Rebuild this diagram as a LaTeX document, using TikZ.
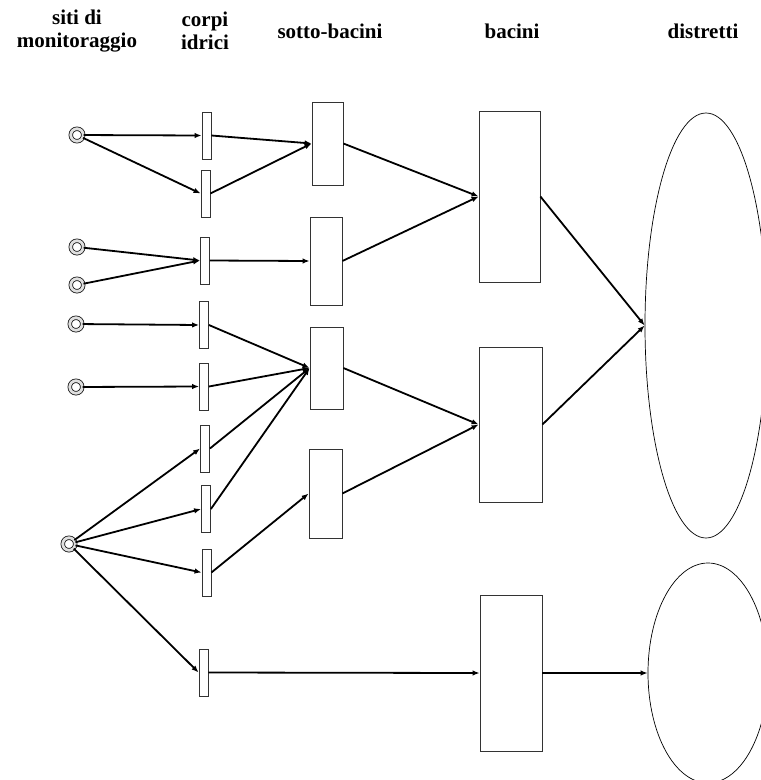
\documentclass[tikz,border=0pt]{standalone}
\usepackage{fontspec}
\setmainfont{Liberation Serif}
\usetikzlibrary{shapes.geometric,arrows.meta}
\tikzset{>={Latex[length=7pt,width=5.5pt]}}
\tikzset{
  site/.style={circle,draw=gray!20!black,fill=white,line width=0.8pt,double=gray!25,double distance=2.8pt,inner sep=0pt,minimum size=12.5pt},
  corpo/.style={rectangle,draw=gray!40!black,line width=0.8pt,inner sep=0pt,minimum width=9pt,minimum height=47pt},
  bacino/.style={rectangle,draw=gray!40!black,line width=0.8pt,inner sep=0pt},
  distretto/.style={ellipse,draw,line width=0.7pt,inner sep=0pt},
  flow/.style={->,line width=1.8pt},
  header/.style={font=\bfseries\fontsize{21}{23}\selectfont,align=center}
}

\begin{document}
\begin{tikzpicture}[x=1pt,y=-1pt]
  \useasboundingbox (0,0) rectangle (761,780);
  \clip (0,0) rectangle (761,780);
  % headers
  \node[header] (h1) at (77,31) {siti di\\monitoraggio};
  \node[header] (h2) at (205,31) {corpi\\idrici};
  \node[header] (h3) at (330,31) {sotto-bacini};
  \node[header] (h4) at (512,31) {bacini};
  \node[header] (h5) at (703,31) {distretti};
  % monitoring sites
  \node[site] (s1) at (77,135) {};
  \node[site] (s2) at (77,247) {};
  \node[site] (s3) at (77,285) {};
  \node[site] (s4) at (76,324) {};
  \node[site] (s5) at (76,387) {};
  \node[site] (s6) at (69,544) {};
  % water bodies
  \node[corpo] (c1) at (206.5,135.5) {};
  \node[corpo] (c2) at (205.5,193.5) {};
  \node[corpo] (c3) at (205,260.5) {};
  \node[corpo] (c4) at (204,325) {};
  \node[corpo] (c5) at (204,386.5) {};
  \node[corpo] (c6) at (205,448.5) {};
  \node[corpo] (c7) at (206,509) {};
  \node[corpo] (c8) at (206.5,572.5) {};
  \node[corpo] (c9) at (203.5,672.5) {};
  % sub-basins
  \node[bacino,minimum width=31pt,minimum height=83pt] (sb1) at (327.5,143.5) {};
  \node[bacino,minimum width=32pt,minimum height=88pt] (sb2) at (326,261) {};
  \node[bacino,minimum width=33pt,minimum height=82pt] (sb3) at (326.5,368) {};
  \node[bacino,minimum width=33pt,minimum height=89pt] (sb4) at (325.5,493.5) {};
  % basins
  \node[bacino,minimum width=61pt,minimum height=171pt] (b1) at (509.5,196.5) {};
  \node[bacino,minimum width=63pt,minimum height=155pt] (b2) at (510.5,424.5) {};
  \node[bacino,minimum width=62pt,minimum height=156pt] (b3) at (511,673) {};
  % districts
  \node[distretto,minimum width=122pt,minimum height=425pt] (d1) at (706,325.5) {};
  \node[distretto,minimum width=120pt,minimum height=220pt] (d2) at (708,673) {};
  % sites to water bodies
  \draw[flow] (s1) -- (c1.west);
  \draw[flow] (s1) -- (c2.west);
  \draw[flow] (s2) -- (c3.west);
  \draw[flow] (s3) -- (c3.west);
  \draw[flow] (s4) -- (c4.west);
  \draw[flow] (s5) -- (c5.west);
  \foreach \X in {c6,c7,c8,c9} { \draw[flow] (s6) -- (\X.west); };
  % water bodies to sub-basins
  \foreach \X in {c1,c2} { \draw[flow] (\X.east) -- (sb1.west); };
  \draw[flow] (c3.east) -- (sb2.west);
  \foreach \X in {c4,c5,c6,c7} { \draw[flow] (\X.east) -- (sb3.west); };
  \draw[flow] (c8.east) -- (sb4.west);
  \draw[flow] (c9.east) -- (b3.west);
  % sub-basins to basins
  \foreach \X in {sb1,sb2} { \draw[flow] (\X.east) -- (b1.west); };
  \foreach \X in {sb3,sb4} { \draw[flow] (\X.east) -- (b2.west); };
  % basins to districts
  \foreach \X in {b1,b2} { \draw[flow] (\X.east) -- (d1.west); };
  \draw[flow] (b3.east) -- (d2.west);
\end{tikzpicture}
\end{document}
